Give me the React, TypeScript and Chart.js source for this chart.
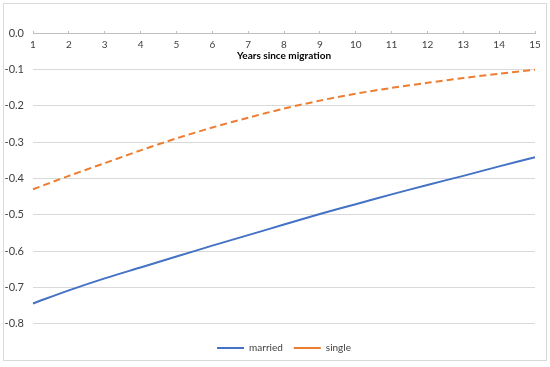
import React, { useEffect, useRef } from 'react';
import { Chart, registerables } from 'chart.js';

Chart.register(...registerables);

const years = ['1', '2', '3', '4', '5', '6', '7', '8', '9', '10', '11', '12', '13', '14', '15'];
const marriedValues = [-0.744, -0.708, -0.675, -0.645, -0.615, -0.585, -0.556, -0.527, -0.498, -0.471, -0.444, -0.418, -0.393, -0.367, -0.342];
const singleValues = [-0.43, -0.393, -0.358, -0.323, -0.29, -0.26, -0.233, -0.208, -0.186, -0.167, -0.151, -0.137, -0.124, -0.112, -0.101];
const seriesNames = ['married', 'single'];
const xAxisTitle = 'Years since migration';
const yMin = -0.8;
const yMax = 0;
const yStep = 0.1;

const FONT = 'Lato, "Open Sans", sans-serif';

const borderPlugin = {
  id: 'outerBorder',
  beforeDraw(chart: any) {
    const ctx = chart.ctx;
    ctx.save();
    ctx.fillStyle = '#ffffff';
    ctx.fillRect(0, 0, chart.width, chart.height);
    ctx.strokeStyle = '#d9d9d9';
    ctx.lineWidth = 1;
    ctx.strokeRect(3.5, 3.5, 543, 357);
    ctx.restore();
  },
};

export default function App() {
  const ref = useRef<HTMLCanvasElement | null>(null);

  useEffect(() => {
    if (!ref.current) return;
    const chart = new Chart(ref.current, {
      type: 'line',
      data: {
        labels: years,
        datasets: [
          {
            label: seriesNames[0],
            data: marriedValues,
            borderColor: '#4472C4',
            backgroundColor: '#4472C4',
            borderWidth: 2,
            pointRadius: 0,
            pointStyle: 'line',
            tension: 0.3,
          },
          {
            label: seriesNames[1],
            data: singleValues,
            borderColor: '#ED7D31',
            backgroundColor: '#ED7D31',
            borderWidth: 2,
            borderDash: [7, 4],
            pointRadius: 0,
            pointStyle: 'line',
            tension: 0.3,
          },
        ],
      },
      options: {
        responsive: false,
        animation: false,
        devicePixelRatio: 1,
        layout: { padding: { top: 33, right: 15, bottom: 4, left: 0 } },
        plugins: {
          tooltip: { enabled: false },
          legend: {
            position: 'bottom',
            fullSize: false,
            title: { display: true, text: '', padding: { top: 7, bottom: 0 }, font: { size: 1 } },
            labels: {
              usePointStyle: true,
              pointStyleWidth: 27,
              padding: 11,
              color: '#404040',
              font: { family: FONT, size: 10 },
            },
          },
        },
        scales: {
          x: {
            type: 'category',
            position: { y: 0 } as any,
            offset: false,
            grid: { drawOnChartArea: false, drawTicks: true, tickLength: -3, color: '#bfbfbf' },
            border: { display: true, color: '#bfbfbf' },
            ticks: { padding: 9, color: '#404040', font: { family: FONT, size: 10 }, maxRotation: 0, autoSkip: false },
            title: { display: true, text: xAxisTitle, color: '#000000', font: { family: FONT, size: 10, weight: 'bold' }, padding: 0 },
            afterFit: (s: any) => { s.height = 29; },
          },
          y: {
            min: yMin,
            max: yMax,
            ticks: {
              stepSize: yStep,
              padding: 9,
              color: '#404040',
              font: { family: FONT, size: 11 },
              callback: (v: any) => Number(v).toFixed(1),
            },
            grid: { color: '#d9d9d9', drawTicks: false },
            border: { display: false },
            afterFit: (s: any) => { s.width = 33; },
          },
        },
      },
      plugins: [borderPlugin],
    } as any);
    return () => chart.destroy();
  }, []);

  return (
    <div style={{ position: 'fixed', left: 0, top: 0, width: 550, height: 367, background: '#fff' }}>
      <canvas ref={ref} width={550} height={367} style={{ width: 550, height: 367, display: 'block' }} />
    </div>
  );
}
